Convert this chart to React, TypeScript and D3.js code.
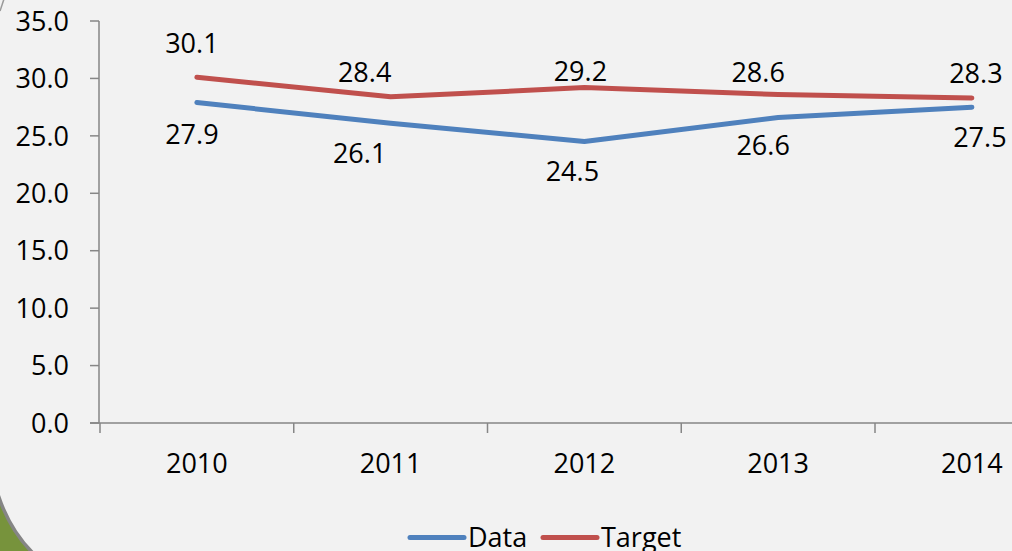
// Line chart: "Data" vs "Target" per year, with value labels and an
// Office-style olive corner peeking in at the bottom left.

import React, { useRef, useEffect } from 'react';
import * as d3 from 'd3';

const years = ['2010', '2011', '2012', '2013', '2014'];
const dataValues = [27.9, 26.1, 24.5, 26.6, 27.5];
const targetValues = [30.1, 28.4, 29.2, 28.6, 28.3];
const yTicks = [0, 5, 10, 15, 20, 25, 30, 35];

// Hand placement of the value labels (dx, dy from the point to the label centre).
const targetLabelShift = [[-5, -34], [-26, -25], [-4, -16], [-20, -22], [4, -25]];
const dataLabelShift = [[-5, 32], [-31, 30], [-12, 30], [-15, 28], [8, 30]];

const WIDTH = 1012;
const HEIGHT = 551;
const PLOT_LEFT = 100;
const BAND = 193.75;
const AXIS_Y = 423;
const TOP_Y = 21;
const FONT = "'Open Sans', 'DejaVu Sans', sans-serif";
const FONT_SIZE = '27px';
const BLUE = '#4f81bd';
const RED = '#c0504d';
const AXIS = '#868686';

const App = () => {
  const svgRef = useRef<SVGSVGElement>(null);

  useEffect(() => {
    const svg = d3.select(svgRef.current).attr('width', WIDTH).attr('height', HEIGHT);
    svg.selectAll('*').remove();
    svg.append('rect').attr('width', WIDTH).attr('height', HEIGHT).attr('fill', '#f2f2f2');

    // Corner of the surrounding slide shape.
    svg
      .append('path')
      .attr('d', 'M -4,488 Q 8,530 36,556 L -4,556 Z')
      .attr('fill', '#77933c')
      .attr('stroke', '#858585')
      .attr('stroke-width', 3.5);
    svg
      .append('line')
      .attr('x1', 0)
      .attr('y1', 11)
      .attr('x2', 4)
      .attr('y2', -1)
      .attr('stroke', '#9a9a9a')
      .attr('stroke-width', 1.5);

    const x = d3
      .scaleBand()
      .domain(years)
      .range([PLOT_LEFT, PLOT_LEFT + BAND * years.length])
      .padding(0);
    const cx = (d: string) => (x(d) ?? 0) + x.bandwidth() / 2;

    const y = d3.scaleLinear().domain([0, 35]).range([AXIS_Y, TOP_Y]);

    // Y axis
    const gy = svg.append('g').attr('stroke', AXIS).attr('stroke-width', 1.5);
    gy.append('line')
      .attr('x1', PLOT_LEFT - 1)
      .attr('x2', PLOT_LEFT - 1)
      .attr('y1', TOP_Y)
      .attr('y2', AXIS_Y);
    gy.selectAll('line.tick')
      .data(yTicks)
      .enter()
      .append('line')
      .attr('class', 'tick')
      .attr('x1', PLOT_LEFT - 10)
      .attr('x2', PLOT_LEFT - 1)
      .attr('y1', (d) => y(d))
      .attr('y2', (d) => y(d));
    svg
      .append('g')
      .selectAll('text')
      .data(yTicks)
      .enter()
      .append('text')
      .attr('x', 69)
      .attr('y', (d) => y(d))
      .attr('dy', '0.36em')
      .attr('text-anchor', 'end')
      .attr('font-family', FONT)
      .attr('font-size', FONT_SIZE)
      .attr('fill', '#000')
      .text((d) => d.toFixed(1));

    // X axis
    const gx = svg.append('g').attr('stroke', AXIS).attr('stroke-width', 1.5);
    gx.append('line')
      .attr('x1', PLOT_LEFT - 10)
      .attr('x2', WIDTH)
      .attr('y1', AXIS_Y)
      .attr('y2', AXIS_Y);
    gx.selectAll('line.tick')
      .data(years)
      .enter()
      .append('line')
      .attr('class', 'tick')
      .attr('x1', (d) => x(d) ?? 0)
      .attr('x2', (d) => x(d) ?? 0)
      .attr('y1', AXIS_Y)
      .attr('y2', AXIS_Y + 10);
    svg
      .append('g')
      .selectAll('text')
      .data(years)
      .enter()
      .append('text')
      .attr('x', (d) => cx(d))
      .attr('y', 463)
      .attr('dy', '0.36em')
      .attr('text-anchor', 'middle')
      .attr('font-family', FONT)
      .attr('font-size', FONT_SIZE)
      .attr('fill', '#000')
      .text((d) => d);

    // Series
    const series = [
      { values: dataValues, color: BLUE, shift: dataLabelShift },
      { values: targetValues, color: RED, shift: targetLabelShift },
    ];
    const line = d3
      .line<number>()
      .x((_d, i) => cx(years[i]))
      .y((d) => y(d));
    series.forEach((s) => {
      svg
        .append('path')
        .datum(s.values)
        .attr('fill', 'none')
        .attr('stroke', s.color)
        .attr('stroke-width', 5)
        .attr('stroke-linecap', 'round')
        .attr('stroke-linejoin', 'round')
        .attr('d', line);
    });
    series.forEach((s) => {
      svg
        .append('g')
        .selectAll('text')
        .data(s.values)
        .enter()
        .append('text')
        .attr('x', (_d, i) => cx(years[i]) + s.shift[i][0])
        .attr('y', (d, i) => y(d) + s.shift[i][1])
        .attr('dy', '0.36em')
        .attr('text-anchor', 'middle')
        .attr('font-family', FONT)
        .attr('font-size', FONT_SIZE)
        .attr('fill', '#000')
        .text((d) => d.toFixed(1));
    });

    // Legend
    const legend = [
      { name: 'Data', color: BLUE, x: 410 },
      { name: 'Target', color: RED, x: 543 },
    ];
    const lg = svg.append('g');
    legend.forEach((l) => {
      lg.append('line')
        .attr('x1', l.x)
        .attr('x2', l.x + 54)
        .attr('y1', 537.5)
        .attr('y2', 537.5)
        .attr('stroke', l.color)
        .attr('stroke-width', 5)
        .attr('stroke-linecap', 'round');
      lg.append('text')
        .attr('x', l.x + 58)
        .attr('y', 537)
        .attr('dy', '0.36em')
        .attr('font-family', FONT)
        .attr('font-size', FONT_SIZE)
        .attr('fill', '#000')
        .text(l.name);
    });
  }, []);

  return (
    <div style={{ position: 'fixed', left: 0, top: 0 }}>
      <svg ref={svgRef} style={{ display: 'block' }} />
    </div>
  );
};

export default App;
